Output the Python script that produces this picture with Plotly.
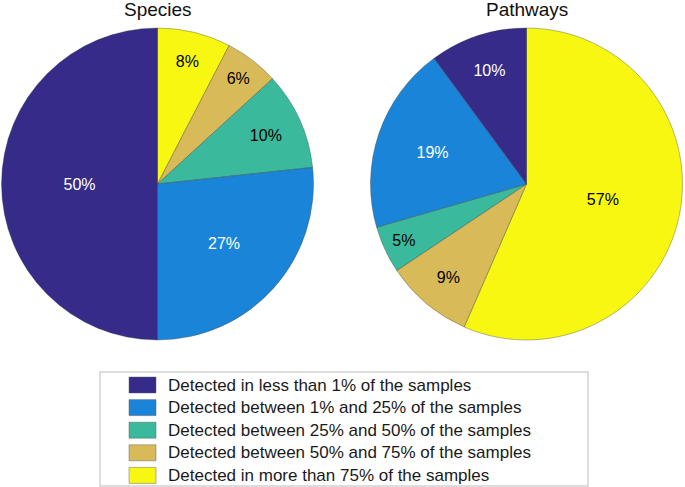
import plotly.graph_objects as go

W, H = 685, 487

categories = [
    "Detected in less than 1% of the samples",
    "Detected between 1% and 25% of the samples",
    "Detected between 25% and 50% of the samples",
    "Detected between 50% and 75% of the samples",
    "Detected in more than 75% of the samples",
]
colors = ["#362B88", "#1A85D8", "#3BB99C", "#D9BA58", "#F7F711"]
text_colors = ["white", "white", "black", "black", "black"]

species_values = [50.0, 26.7, 10.1, 5.6, 7.6]
pathway_values = [10.1, 19.4, 4.9, 9.1, 56.6]

titles = ["Species", "Pathways"]

FONT = "Liberation Sans, Arial, Helvetica, sans-serif"


def px(x):
    return x / W


def py(y):
    return 1 - y / H


fig = go.Figure()

pie_domains = [
    dict(x=[px(1.5), px(313.5)], y=[py(340), py(28)]),
    dict(x=[px(370.5), px(682.5)], y=[py(340), py(28)]),
]

for vals, dom in zip([species_values, pathway_values], pie_domains):
    # slices run clockwise from 12 o'clock, from the last category to the first
    fig.add_trace(go.Pie(
        labels=categories[::-1],
        values=vals[::-1],
        domain=dom,
        sort=False,
        direction="clockwise",
        rotation=0,
        marker=dict(colors=colors[::-1], line=dict(color="rgba(60,60,60,0.45)", width=0.8)),
        texttemplate="%{percent:.0%}",
        textposition="inside",
        insidetextorientation="horizontal",
        textfont=dict(family=FONT, size=16, color=text_colors[::-1]),
        showlegend=False,
        hoverinfo="label+percent",
    ))

annotations = []
shapes = []

# titles
for t, cx in zip(titles, [157.5, 526.5]):
    annotations.append(dict(
        text=t, x=px(cx), y=py(10), xref="paper", yref="paper",
        xanchor="center", yanchor="middle", showarrow=False,
        font=dict(family=FONT, size=19, color="#111111"),
    ))

# legend box
shapes.append(dict(type="rect", xref="paper", yref="paper",
                   x0=px(100), x1=px(588), y0=py(486), y1=py(372),
                   line=dict(color="#d2d2d2", width=1.5), fillcolor="white", layer="below"))

row0 = 385.0
step = 22.6
for i, (cat, col) in enumerate(zip(categories, colors)):
    yc = row0 + step * i
    shapes.append(dict(type="rect", xref="paper", yref="paper",
                       x0=px(129), x1=px(156), y0=py(yc + 8), y1=py(yc - 8),
                       line=dict(color="rgba(90,90,90,0.45)", width=1), fillcolor=col))
    annotations.append(dict(
        text=cat, x=px(166), y=py(yc), xref="paper", yref="paper",
        xanchor="left", yanchor="middle", showarrow=False,
        font=dict(family=FONT, size=17, color="#1a1a1a"),
    ))

fig.update_layout(
    width=W, height=H,
    margin=dict(l=0, r=0, t=0, b=0),
    paper_bgcolor="white",
    plot_bgcolor="white",
    annotations=annotations,
    shapes=shapes,
)

fig.write_html("out.html", config={"displayModeBar": False},
               post_script="document.body.style.margin='0';")
